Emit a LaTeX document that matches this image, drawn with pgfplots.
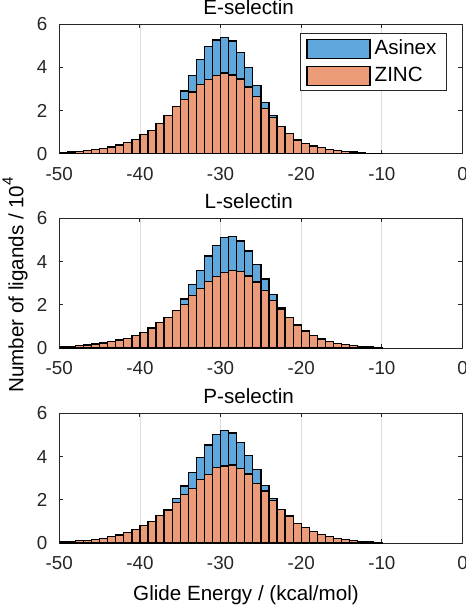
\documentclass[border=0pt]{standalone}
\usepackage{fontspec}
\setmainfont{Liberation Sans}
\usepackage{pgfplots}
\usepackage{pgfplotstable}
\pgfplotsset{compat=1.18}
\definecolor{zincc}{RGB}{236,155,120}
\definecolor{asinexc}{RGB}{96,168,220}
\definecolor{axgray}{RGB}{38,38,38}
\definecolor{gridgray}{RGB}{222,222,222}

\pgfplotstableread{
x zinc asinex
-49.5 0.05 0
-48.5 0.08 0
-47.5 0.10 0
-46.5 0.14 0
-45.5 0.20 0
-44.5 0.25 0
-43.5 0.31 0
-42.5 0.40 0
-41.5 0.52 0
-40.5 0.66 0
-39.5 0.88 0
-38.5 1.06 0
-37.5 1.39 0
-36.5 1.77 0
-35.5 2.17 0
-34.5 2.52 0.38
-33.5 2.85 0.76
-32.5 3.20 1.16
-31.5 3.44 1.51
-30.5 3.61 1.65
-29.5 3.74 1.63
-28.5 3.64 1.57
-27.5 3.46 1.21
-26.5 3.08 0.91
-25.5 2.65 0.52
-24.5 2.09 0.29
-23.5 1.66 0.11
-22.5 1.26 0
-21.5 0.93 0
-20.5 0.63 0
-19.5 0.48 0
-18.5 0.36 0
-17.5 0.28 0
-16.5 0.20 0
-15.5 0.15 0
-14.5 0.11 0
-13.5 0.08 0
-12.5 0.05 0
-11.5 0.02 0
-10.5 0.01 0
-9.5 0 0
-8.5 0 0
-7.5 0 0
-6.5 0 0
-5.5 0 0
-4.5 0 0
-3.5 0 0
-2.5 0 0
-1.5 0 0
-0.5 0 0
}\dataE

\pgfplotstableread{
x zinc asinex
-49.5 0.05 0
-48.5 0.08 0
-47.5 0.11 0
-46.5 0.14 0
-45.5 0.19 0
-44.5 0.23 0
-43.5 0.30 0
-42.5 0.37 0
-41.5 0.45 0
-40.5 0.58 0
-39.5 0.73 0
-38.5 0.92 0
-37.5 1.17 0
-36.5 1.42 0
-35.5 1.73 0
-34.5 2.00 0.27
-33.5 2.43 0.51
-32.5 2.75 0.84
-31.5 3.09 1.16
-30.5 3.30 1.44
-29.5 3.48 1.64
-28.5 3.59 1.57
-27.5 3.55 1.40
-26.5 3.33 1.16
-25.5 3.06 0.80
-24.5 2.66 0.53
-23.5 2.19 0.28
-22.5 1.81 0.05
-21.5 1.40 0
-20.5 1.06 0
-19.5 0.79 0
-18.5 0.59 0
-17.5 0.42 0
-16.5 0.30 0
-15.5 0.22 0
-14.5 0.16 0
-13.5 0.11 0
-12.5 0.08 0
-11.5 0.04 0
-10.5 0.02 0
-9.5 0 0
-8.5 0 0
-7.5 0 0
-6.5 0 0
-5.5 0 0
-4.5 0 0
-3.5 0 0
-2.5 0 0
-1.5 0 0
-0.5 0 0
}\dataL

\pgfplotstableread{
x zinc asinex
-49.5 0.05 0
-48.5 0.07 0
-47.5 0.10 0
-46.5 0.13 0
-45.5 0.17 0
-44.5 0.22 0
-43.5 0.29 0
-42.5 0.37 0
-41.5 0.48 0
-40.5 0.62 0
-39.5 0.82 0
-38.5 1.00 0
-37.5 1.28 0
-36.5 1.53 0
-35.5 1.87 0.18
-34.5 2.24 0.40
-33.5 2.53 0.73
-32.5 2.93 1.04
-31.5 3.18 1.36
-30.5 3.49 1.54
-29.5 3.56 1.64
-28.5 3.61 1.48
-27.5 3.44 1.21
-26.5 3.19 0.85
-25.5 2.75 0.65
-24.5 2.41 0.26
-23.5 1.98 0.07
-22.5 1.56 0
-21.5 1.25 0
-20.5 0.91 0
-19.5 0.71 0
-18.5 0.52 0
-17.5 0.39 0
-16.5 0.29 0
-15.5 0.22 0
-14.5 0.17 0
-13.5 0.12 0
-12.5 0.08 0
-11.5 0.05 0
-10.5 0.02 0
-9.5 0 0
-8.5 0 0
-7.5 0 0
-6.5 0 0
-5.5 0 0
-4.5 0 0
-3.5 0 0
-2.5 0 0
-1.5 0 0
-0.5 0 0
}\dataP

\pgfplotsset{rectlegend/.style={legend image code/.code={\draw[##1, draw=black, line width=0.65pt] (0pt,-4.75pt) rectangle (31.5pt,4.75pt);}}}
\pgfplotsset{selstyle/.style={
  scale only axis, width=201.6pt, height=64.85pt,
  xmin=-50, xmax=0, ymin=0, ymax=6,
  xtick={-50,-40,-30,-20,-10,0}, ytick={0,2,4,6},
  ybar stacked, bar width=1, bar shift=0pt,
  tick align=inside, major tick length=2pt,
  xmajorgrids, grid style={gridgray, line width=0.4pt},
  axis line style={axgray, line width=0.5pt},
  tick style={axgray, line width=0.5pt},
  /pgf/number format/assume math mode=true,
  tick label style={font=\fontsize{9.4}{10}\selectfont, text=axgray},
  xticklabel style={yshift=-3.4pt},
  yticklabel style={xshift=-2.5pt},
  every axis title shift=0pt,
  title style={at={(rel axis cs:0.4697,1)}, anchor=base, yshift=4.75pt, font=\fontsize{10.3}{12}\selectfont, inner sep=0pt},
  every axis plot/.append style={draw=black, line width=0.65pt},
}}

\begin{document}
\begin{tikzpicture}
\useasboundingbox (-29.65pt,-226.15pt) rectangle (203.35pt,76.85pt);
\begin{axis}[selstyle, at={(0pt,0pt)}, anchor=south west, title={E-selectin},
  reverse legend,
  legend style={at={(rel axis cs:0.9616,0.9306)}, anchor=north east, draw=axgray, line width=0.5pt, fill=white,
    font=\fontsize{10.3}{12}\selectfont, inner xsep=3pt, inner ysep=1.2pt, row sep=0.6pt,
    cells={anchor=west}},
  legend cell align=left]
\addplot[fill=zincc, rectlegend] table[x=x,y=zinc]{\dataE};
\addplot[fill=asinexc, rectlegend] table[x=x,y=asinex]{\dataE};
\legend{ZINC,Asinex}
\end{axis}
\begin{axis}[selstyle, at={(0pt,-97.15pt)}, anchor=south west, title={L-selectin}]
\addplot[fill=zincc] table[x=x,y=zinc]{\dataL};
\addplot[fill=asinexc] table[x=x,y=asinex]{\dataL};
\end{axis}
\begin{axis}[selstyle, at={(0pt,-194.65pt)}, anchor=south west, title={P-selectin}]
\addplot[fill=zincc] table[x=x,y=zinc]{\dataP};
\addplot[fill=asinexc] table[x=x,y=asinex]{\dataP};
\end{axis}
\node[rotate=90, anchor=base, font=\fontsize{10.3}{12}\selectfont, inner sep=0pt] at (-18pt,-65.65pt) {Number of ligands / 10\raisebox{0.5em}{\fontsize{7.5}{8}\selectfont 4}};
\node[anchor=base, font=\fontsize{10.3}{12}\selectfont, inner sep=0pt] at (93.35pt,-223.15pt) {Glide Energy / (kcal/mol)};
\end{tikzpicture}
\end{document}
